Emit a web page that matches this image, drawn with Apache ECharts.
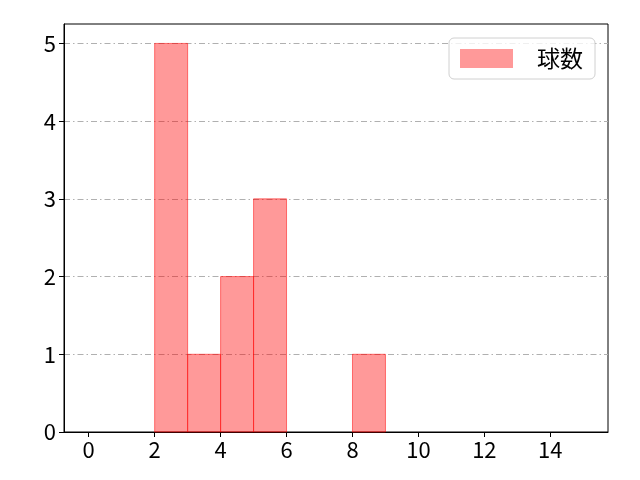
<!DOCTYPE html>
<html>
<head>
<meta charset="utf-8">
<script src="https://cdn.jsdelivr.net/npm/echarts@6/dist/echarts.min.js"></script>
<style>
  html, body { margin: 0; padding: 0; background: #fff; }
  #chart { width: 640px; height: 480px; }
</style>
</head>
<body>
<div id="chart"></div>
<script>
// ヒストグラムのビン (左端, 右端) と度数
const binLeft = [2, 3, 4, 5, 8];
const binRight = [3, 4, 5, 6, 9];
const counts = [5, 1, 2, 3, 1];
const xTicks = [0, 2, 4, 6, 8, 10, 12, 14];
const yTicks = [0, 1, 2, 3, 4, 5];
const seriesName = '球数';

document.addEventListener('DOMContentLoaded', function() {
    const chart = echarts.init(document.getElementById('chart'));
    const font = '"Noto Sans CJK JP", "Noto Sans", sans-serif';

    const histData = counts.map(function(c, i) {
        return [binLeft[i], binRight[i], c];
    });

    chart.setOption({
        animation: false,
        backgroundColor: '#fff',
        grid: {
            left: 64, right: 32, top: 24, bottom: 48,
            show: true, borderColor: '#000', borderWidth: 1
        },
        legend: {
            right: 45, top: 38,
            padding: [9, 12, 9, 11],
            backgroundColor: 'rgba(255,255,255,0.8)',
            borderColor: '#d0d0d0', borderWidth: 1, borderRadius: 5,
            itemWidth: 53, itemHeight: 19,
            textStyle: { fontFamily: font, fontSize: 23, color: '#000', padding: [0, 2, 0, 19] },
            data: [{ name: seriesName, icon: 'rect' }]
        },
        xAxis: {
            type: 'value', min: -0.75, max: 15.75,
            axisLine: { show: true, onZero: false, lineStyle: { color: '#000', width: 1 } },
            axisTick: { show: true, customValues: xTicks, length: 5, lineStyle: { color: '#000' } },
            axisLabel: { customValues: xTicks, fontFamily: font, fontSize: 22, color: '#000', margin: 7 },
            splitLine: { show: false }
        },
        yAxis: {
            type: 'value', min: 0, max: 5.25, interval: 1,
            axisLine: { show: true, onZero: false, lineStyle: { color: '#000', width: 1 } },
            axisTick: { show: true, customValues: yTicks, length: 5, lineStyle: { color: '#000' } },
            axisLabel: { customValues: yTicks, fontFamily: font, fontSize: 22, color: '#000', margin: 8 },
            splitLine: { show: true, lineStyle: { color: '#b0b0b0', width: 1, type: [6, 3, 1.5, 3] } }
        },
        series: [{
            name: seriesName,
            type: 'custom',
            itemStyle: { color: 'rgba(255,0,0,0.4)' },
            renderItem: function(params, api) {
                const p0 = api.coord([api.value(0), 0]);
                const p1 = api.coord([api.value(1), api.value(2)]);
                return {
                    type: 'rect',
                    shape: { x: p0[0], y: p1[1], width: p1[0] - p0[0], height: p0[1] - p1[1] },
                    style: { fill: 'rgba(255,0,0,0.4)', stroke: 'rgba(255,0,0,0.5)', lineWidth: 1 }
                };
            },
            encode: { x: [0, 1], y: 2 },
            data: histData
        }]
    });
});
</script>
</body>
</html>
